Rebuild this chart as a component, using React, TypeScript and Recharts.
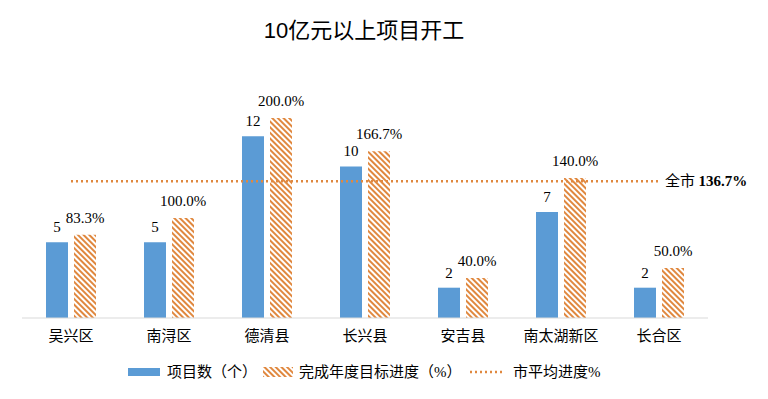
import React from "react";
import {
  BarChart,
  Bar,
  XAxis,
  YAxis,
  LabelList,
  ReferenceLine,
} from "recharts";

const districts = ["吴兴区", "南浔区", "德清县", "长兴县", "安吉县", "南太湖新区", "长合区"];
const projectCounts = [5, 5, 12, 10, 2, 7, 2];
const progressPct = [83.3, 100.0, 200.0, 166.7, 40.0, 140.0, 50.0];
const cityAvgPct = 136.7;

const data = districts.map((name, i) => ({
  name,
  count: projectCounts[i],
  pct: progressPct[i],
}));

const BLUE = "#5B9BD5";
const ORANGE = "#E0883F";
const SERIF = "'Liberation Serif', 'Times New Roman', 'Noto Sans CJK SC', serif";
const SANS = "'Liberation Sans', Arial, 'Noto Sans CJK SC', sans-serif";

function AvgLabel(props: any) {
  const vb = props.viewBox || {};
  const x = (vb.x || 0) + (vb.width || 0) + 6;
  const y = (vb.y || 0) + 5;
  return (
    <text x={x} y={y} fontFamily={SERIF} fontSize={15} fill="#000">
      <tspan fontFamily="'Noto Sans CJK SC', serif">全市 </tspan>
      <tspan fontWeight="bold">{cityAvgPct.toFixed(1)}%</tspan>
    </text>
  );
}

// legend drawn by hand so the hatch swatch matches the bars
function Legend() {
  const txt = { position: "absolute", top: 0, lineHeight: "22px", whiteSpace: "nowrap" } as const;
  return (
    <div
      style={{
        position: "absolute",
        left: 0,
        top: 361,
        width: 768,
        height: 22,
        fontFamily: SERIF,
        fontSize: 15,
        color: "#000",
      }}
    >
      <div style={{ position: "absolute", left: 128, top: 7, width: 32, height: 8, background: BLUE }} />
      <span style={{ ...txt, left: 167 }}>项目数（个）</span>
      <svg style={{ position: "absolute", left: 263, top: 6 }} width={30} height={10}>
        <rect width={30} height={10} fill="url(#hatch)" />
      </svg>
      <span style={{ ...txt, left: 299 }}>完成年度目标进度（%）</span>
      <svg style={{ position: "absolute", left: 470, top: 9 }} width={35} height={4}>
        <line x1={0} y1={2} x2={35} y2={2} stroke={ORANGE} strokeWidth={2.5} strokeDasharray="2 3" />
      </svg>
      <span style={{ ...txt, left: 513 }}>市平均进度%</span>
    </div>
  );
}

export default function App() {
  return (
    <div style={{ position: "absolute", left: 0, top: 0, width: 768, height: 399, background: "#fff" }}>
      <div
        style={{
          position: "absolute",
          top: 12,
          left: 0,
          width: 728,
          textAlign: "center",
          fontFamily: SANS,
          fontSize: 22,
          color: "#000",
        }}
      >
        10亿元以上项目开工
      </div>
      <BarChart
        width={768}
        height={399}
        data={data}
        margin={{ top: 68, right: 60, left: 22, bottom: 0 }}
        barGap={6}
        barSize={22}
      >
        <defs>
          <pattern
            id="hatch"
            patternUnits="userSpaceOnUse"
            width={4}
            height={4}
            patternTransform="rotate(-45)"
          >
            <rect width={4} height={4} fill="#fff" />
            <rect width={2} height={4} fill={ORANGE} />
          </pattern>
        </defs>
        <XAxis
          dataKey="name"
          xAxisId="x"
          height={81}
          tickLine={false}
          axisLine={{ stroke: "#D9D9D9" }}
          tick={{ fontSize: 15, fill: "#000", fontFamily: "'Noto Sans CJK SC', serif" }}
          tickMargin={6}
        />
        <YAxis yAxisId="count" hide domain={[0, 16.5]} />
        <YAxis yAxisId="pct" hide orientation="right" domain={[0, 250]} />
        <Bar dataKey="count" xAxisId="x" yAxisId="count" fill={BLUE} isAnimationActive={false}>
          <LabelList
            dataKey="count"
            position="top"
            offset={10}
            style={{ fontSize: 15, fill: "#000", fontFamily: SERIF }}
          />
        </Bar>
        <Bar dataKey="pct" xAxisId="x" yAxisId="pct" fill="url(#hatch)" isAnimationActive={false}>
          <LabelList
            dataKey="pct"
            position="top"
            offset={12}
            formatter={(v: any) => `${Number(v).toFixed(1)}%`}
            style={{ fontSize: 15, fill: "#000", fontFamily: SERIF }}
          />
        </Bar>
        <ReferenceLine
          xAxisId="x"
          yAxisId="pct"
          segment={[
            { x: districts[0], y: cityAvgPct },
            { x: districts[districts.length - 1], y: cityAvgPct },
          ]}
          stroke={ORANGE}
          strokeWidth={2.5}
          strokeDasharray="2 3"
          ifOverflow="visible"
          label={<AvgLabel />}
        />
      </BarChart>
      <Legend />
    </div>
  );
}
